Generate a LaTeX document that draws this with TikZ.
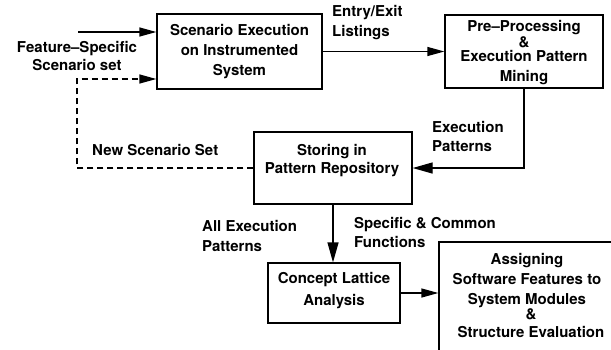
\documentclass[tikz,border=0pt]{standalone}
\usepackage{fontspec}
\setmainfont{TeX Gyre Heros}
\usetikzlibrary{arrows.meta}

\begin{document}
\begin{tikzpicture}[x=1pt, y=-1pt,
  every node/.style={font=\bfseries\fontsize{15}{20}\selectfont, inner sep=0pt},
  box/.style={draw, line width=1.3pt},
  txt/.style={align=center},
  lbl/.style={align=left, anchor=west},
  flow/.style={line width=1.3pt, -{Triangle[length=17pt, width=9pt]}},
  bigflow/.style={flow, -{Triangle[length=20pt, width=11pt]}},
  back/.style={flow, dash pattern=on 6pt off 4pt}]

\useasboundingbox (0,0) rectangle (611,349);

% process boxes
\node[box, minimum width=165pt, minimum height=75pt] (exec) at (239.5,51.5) {};
\node[txt] (execT) at (exec.center) {Scenario Execution\\on Instrumented\\System};

\node[box, minimum width=158pt, minimum height=73pt] (mine) at (524,51.5) {};
\node[txt] (mineT) at (524,52.5) {Pre–Processing\\[-4pt]\&\\[-6pt]Execution Pattern\\Mining};

\node[box, minimum width=158pt, minimum height=72pt] (store) at (333,168) {};
\node[txt] (storeT) at (332,161) {Storing in\\[-2pt]Pattern Repository};

\node[box, minimum width=132pt, minimum height=60pt] (lattice) at (334,293) {};
\node[txt] (latticeT) at (334,291) {Concept Lattice\\[2pt]Analysis};

% the last box runs past the right and bottom edges
\begin{scope}
  \clip (0,0) rectangle (611,349);
  \node[box, minimum width=200pt, minimum height=140pt] (assign) at (539,312) {};
\end{scope}
\node[txt] (assignT) at (527,295.5) {Assigning\\Software Features to\\System Modules\\[-5pt]\hspace*{8pt}\&\\[-2pt]\hspace*{8pt}Structure Evaluation};

% edge labels
\node[txt] (fss) at (77,56) {Feature–Specific\\[-2pt]Scenario set};
\node[lbl] (eel) at (332,23) {Entry/Exit\\Listings};
\node[lbl] (ep) at (432,136.5) {Execution\\[-1pt]Patterns};
\node[lbl] (nss) at (92,150) {New Scenario Set};
\node[lbl] (aep) at (202,236) {All Execution\\Patterns};
\node[lbl] (scf) at (354,232.5) {Specific \& Common\\[-1pt]Functions};

% connectors
\coordinate (src) at (78,32);
\coordinate (loopTurn) at (77,79);
\draw[flow] (src) -- (src -| exec.west);
\draw[back] (store.west) -| (loopTurn) -- (loopTurn -| exec.west);
\draw[flow] (exec.east) -- (mine.west);
\draw[bigflow] (mine.south) |- (store.east);
\draw[bigflow] (store.south) -- (store.south |- lattice.north);
\draw[flow] (lattice.east) -- (lattice.east -| assign.west);
\end{tikzpicture}
\end{document}
